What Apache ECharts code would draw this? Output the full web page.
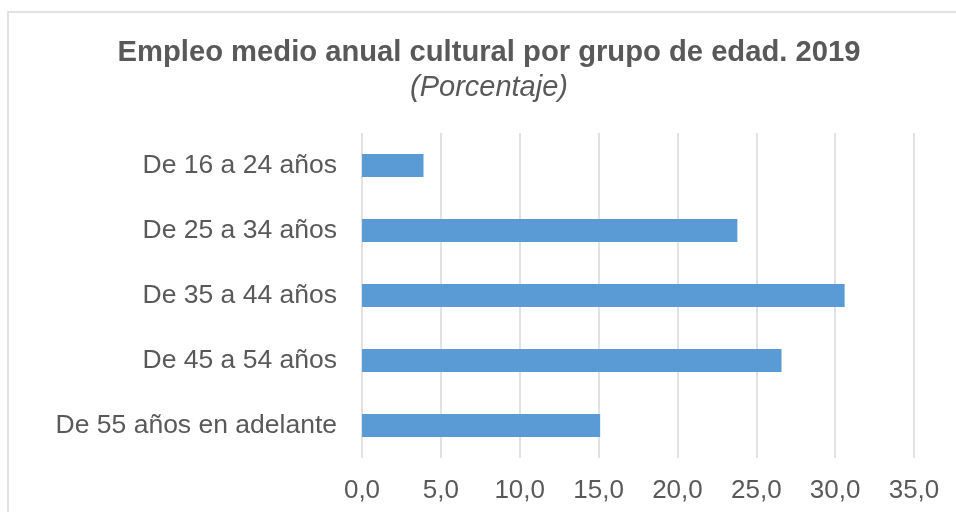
<!DOCTYPE html>
<html>
<head>
<meta charset="utf-8">
<script src="https://cdn.jsdelivr.net/npm/echarts@6/dist/echarts.min.js"></script>
<style>
  html, body { margin: 0; padding: 0; background: #fff; }
  #chart { width: 956px; height: 512px; }
</style>
</head>
<body>
<div id="chart"></div>
<script>
const title = "Empleo medio anual cultural por grupo de edad. 2019";
const subtitle = "(Porcentaje)";
// top to bottom as drawn
const ageGroups = [
  "De 16 a 24 años",
  "De 25 a 34 años",
  "De 35 a 44 años",
  "De 45 a 54 años",
  "De 55 años en adelante",
];
const shares = [3.9, 23.8, 30.6, 26.6, 15.1];

const font = "Liberation Sans, Arial, sans-serif";
const grey = "#595959";

const chart = echarts.init(document.getElementById("chart"), null, { renderer: "canvas" });
chart.setOption({
  animation: false,
  backgroundColor: "#fff",
  title: [
    {
      text: title,
      left: 484,
      textAlign: "center",
      top: 33,
      textStyle: { fontFamily: font, fontSize: 29.2, fontWeight: "bold", color: grey },
    },
    {
      text: subtitle,
      left: 484,
      textAlign: "center",
      top: 68,
      textStyle: { fontFamily: font, fontSize: 29, fontStyle: "italic", fontWeight: "normal", color: grey },
    },
  ],
  graphic: [
    {
      type: "rect",
      shape: { x: 8, y: 12, width: 960, height: 520 },
      style: { fill: "none", stroke: "#d9d9d9", lineWidth: 1.5 },
      silent: true,
    },
  ],
  grid: { left: 362, right: 42, top: 133, bottom: 54 },
  xAxis: {
    type: "value",
    min: 0,
    max: 35,
    interval: 5,
    axisLine: { show: false },
    axisTick: { show: false },
    splitLine: { lineStyle: { color: "#d9d9d9", width: 1.5 } },
    axisLabel: {
      margin: 20,
      fontFamily: font,
      fontSize: 26,
      color: grey,
      formatter: (v) => v.toFixed(1).replace(".", ","),
    },
  },
  yAxis: {
    type: "category",
    inverse: true,
    data: ageGroups,
    axisLine: { show: false },
    axisTick: { show: false },
    axisLabel: { margin: 25, fontFamily: font, fontSize: 26.5, color: grey },
  },
  series: [
    {
      type: "bar",
      data: shares,
      barWidth: 23,
      itemStyle: { color: "#5b9bd5" },
    },
  ],
});
</script>
</body>
</html>
